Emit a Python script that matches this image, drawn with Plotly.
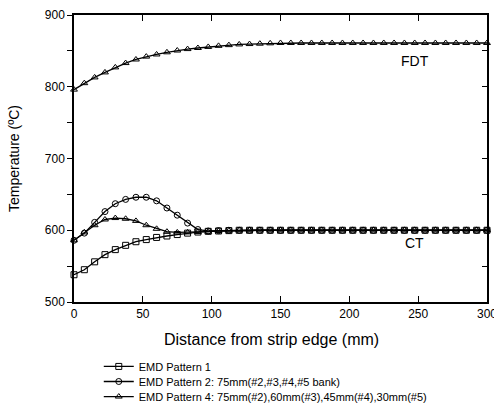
import plotly.graph_objects as go

x_mm = [0, 7.5, 15, 22.5, 30, 37.5, 45, 52.5, 60, 67.5, 75, 82.5, 90, 97.5, 105, 112.5,
        120, 127.5, 135, 142.5, 150, 157.5, 165, 172.5, 180, 187.5, 195, 202.5, 210, 217.5,
        225, 232.5, 240, 247.5, 255, 262.5, 270, 277.5, 285, 292.5, 300]

fdt = [796, 805, 813, 820, 827, 833, 838, 842, 845, 848, 850.5, 852.5, 854, 855.5, 857, 858,
       859, 859.5, 860, 860.5, 861, 861, 861, 861, 861, 861, 861, 861, 861, 861,
       861, 861, 861, 861, 861, 861, 861, 861, 861, 861, 861]

ct_p1 = [538, 545, 556, 566, 573, 579, 584, 587, 590, 592, 594, 596, 597.5, 598.5, 599, 599.5,
         600, 600, 600, 600, 600, 600, 600, 600, 600, 600, 600, 600, 600, 600,
         600, 600, 600, 600, 600, 600, 600, 600, 600, 600, 600]

ct_p2 = [586, 596, 611, 626, 637, 643, 646, 646, 641, 631, 621, 610, 601, 599, 599.5, 600,
         600, 600, 600, 600, 600, 600, 600, 600, 600, 600, 600, 600, 600, 600,
         600, 600, 600, 600, 600, 600, 600, 600, 600, 600, 600]

ct_p4 = [586, 597, 607, 615, 617, 616, 613, 607, 602, 598, 597, 597, 597.5, 598, 599, 599.5,
         600, 600, 600, 600, 600, 600, 600, 600, 600, 600, 600, 600, 600, 600,
         600, 600, 600, 600, 600, 600, 600, 600, 600, 600, 600]

names = ["EMD Pattern 1",
         "EMD Pattern 2: 75mm(#2,#3,#4,#5 bank)",
         "EMD Pattern 4: 75mm(#2),60mm(#3),45mm(#4),30mm(#5)"]
symbols = ["square-open", "circle-open", "triangle-up-open"]
legend_ids = ["legend", "legend2", "legend3"]
legend_rows = [-0.2245, -0.277, -0.3295]

FONT = "Liberation Sans, Arial, sans-serif"
fig = go.Figure()

for name, sym, ys, lg in zip(names, symbols, [ct_p1, ct_p2, ct_p4], legend_ids):
    fig.add_trace(go.Scatter(
        x=x_mm, y=ys, mode="lines+markers", name=name, legendgroup=name, legend=lg,
        line=dict(color="black", width=1.3),
        marker=dict(symbol=sym, size=6, color="black", line=dict(width=1)),
        cliponaxis=False))

fig.add_trace(go.Scatter(
    x=x_mm, y=fdt, mode="lines+markers", name=names[2], legendgroup=names[2],
    legend="legend3", showlegend=False,
    line=dict(color="black", width=1.3),
    marker=dict(symbol="triangle-up-open", size=6, color="black", line=dict(width=1)),
    cliponaxis=False))

# invisible trace for right-side inner ticks
fig.add_trace(go.Scatter(x=[0], y=[500], yaxis="y2", mode="markers",
                         marker=dict(opacity=0), showlegend=False, hoverinfo="skip"))

fig.add_annotation(x=248, y=836, text="FDT", showarrow=False,
                   font=dict(family=FONT, size=14, color="black"))
fig.add_annotation(x=247, y=582, text="CT", showarrow=False,
                   font=dict(family=FONT, size=14, color="black"))
fig.add_annotation(xref="paper", yref="paper", x=0.477, y=-0.131, yanchor="middle",
                   text="Distance from strip edge (mm)", showarrow=False,
                   font=dict(family=FONT, size=16, color="black"))

leg_common = dict(x=0.06, xanchor="left", yanchor="middle",
                  font=dict(family=FONT, size=11), bgcolor="rgba(0,0,0,0)",
                  itemwidth=30)

fig.update_layout(
    width=494, height=403,
    margin=dict(l=74, r=7, t=15, b=101, autoexpand=False),
    paper_bgcolor="white", plot_bgcolor="white",
    font=dict(family=FONT, size=12, color="black"),
    xaxis=dict(range=[0, 300], dtick=50, tick0=0, showgrid=False, zeroline=False,
               showline=True, linecolor="black", linewidth=1.5, mirror="ticks",
               ticks="inside", ticklen=6, tickcolor="black",
               ticklabeloverflow="allow", automargin=False,
               tickfont=dict(family=FONT, size=12)),
    yaxis=dict(range=[500, 900], tickvals=[500, 550, 600, 650, 700, 750, 800, 850, 900],
               ticktext=["500", "", "600", "", "700", "", "800", "", "900"],
               showgrid=False, zeroline=False, automargin=False,
               showline=True, linecolor="black", linewidth=1.5, mirror=True,
               ticks="outside", ticklen=5, tickcolor="black",
               tickfont=dict(family=FONT, size=12),
               title=dict(text="Temperature (ºC)", font=dict(family=FONT, size=14),
                          standoff=22)),
    yaxis2=dict(range=[500, 900], overlaying="y", side="right", dtick=50,
                showgrid=False, zeroline=False, showticklabels=False, automargin=False,
                ticks="inside", ticklen=5, tickcolor="black", showline=False),
    legend=dict(y=legend_rows[0], **leg_common),
    legend2=dict(y=legend_rows[1], **leg_common),
    legend3=dict(y=legend_rows[2], **leg_common),
    showlegend=True,
)

fig.write_html("out.html", config={"displayModeBar": False},
               post_script="document.body.style.margin='0';")
